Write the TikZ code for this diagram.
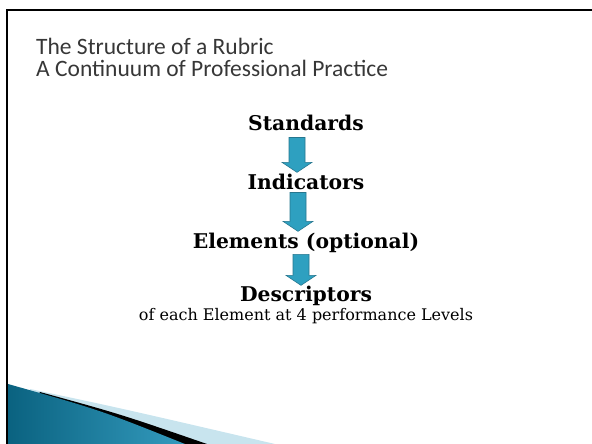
\documentclass[tikz,border=0pt]{standalone}
\usepackage{fontspec}
\setmainfont{DejaVu Serif}
\newfontfamily\titlefont{Carlito}
\usetikzlibrary{calc}

\definecolor{arrowfill}{RGB}{46,160,192}
\definecolor{arrowline}{RGB}{38,118,142}
\definecolor{tealdark}{RGB}{10,98,128}
\definecolor{teallight}{RGB}{52,155,190}
\definecolor{bandlight}{RGB}{200,228,238}
\definecolor{titlegray}{RGB}{55,55,55}

\begin{document}
\begin{tikzpicture}[
    x=1pt, y=-1pt,
    % Slide heading
    heading/.style={
        anchor=base west,
        inner sep=0pt,
        font=\titlefont\fontsize{23.5}{28}\selectfont,
        text=titlegray
    },
    % Levels of the rubric
    level/.style={
        anchor=base,
        inner sep=0pt,
        font=\bfseries\fontsize{20.3}{24}\selectfont
    },
    note/.style={
        anchor=base,
        inner sep=0pt,
        font=\fontsize{16}{19}\selectfont
    },
    % Fat down arrow between two levels
    blockarrow/.style={
        draw=arrowline,
        fill=arrowfill,
        line width=0.6pt,
        to path={let \p1=(\tikztostart), \p2=(\tikztotarget) in
            (\x1-8pt,\y1) -- (\x1+8pt,\y1) -- (\x1+8pt,\y2+10pt)
            -- (\x1+15pt,\y2+10pt) -- (\x1,\y2) -- (\x1-15pt,\y2+10pt)
            -- (\x1-8pt,\y2+10pt) -- cycle}
    }
]
    \useasboundingbox (0,0) rectangle (592,444);

    % Wedge in the lower left corner
    \fill[bandlight] (30,389) .. controls (120,408) .. (275,444) -- (8,444) -- cycle;
    \fill[black] (40,392) .. controls (120,414) .. (207,444) -- (8,444) -- cycle;
    \shade[left color=tealdark, right color=teallight]
        (8,384) .. controls (100,410) .. (185,444) -- (8,444) -- cycle;

    % Frame
    \draw[line width=2pt] (7,444) -- (7,10) -- (592,10);

    % Heading
    \node[heading] (title) at (36,55) {The Structure of a Rubric};
    \node[heading] (subtitle) at (36,77) {A Continuum of Professional Practice};

    % Levels
    \node[level] (std) at (306,130) {Standards};
    \node[level] (ind) at (306,189) {Indicators};
    \node[level] (elm) at (306,248) {Elements (optional)};
    \node[level] (dsc) at (306,301) {Descriptors};
    \node[note] (lvl) at (306,320) {of each Element at 4 performance Levels};

    % Arrows between the levels
    \draw[blockarrow] ([shift={(-9,7)}]std.south) to ([shift={(-9,-1)}]ind.north);
    \draw[blockarrow] ([shift={(-8,3)}]ind.south) to ([shift={(-8,-1)}]elm.north);
    \draw[blockarrow] ([shift={(-5,2)}]elm.south) to ([shift={(-5,0)}]dsc.north);
\end{tikzpicture}
\end{document}
